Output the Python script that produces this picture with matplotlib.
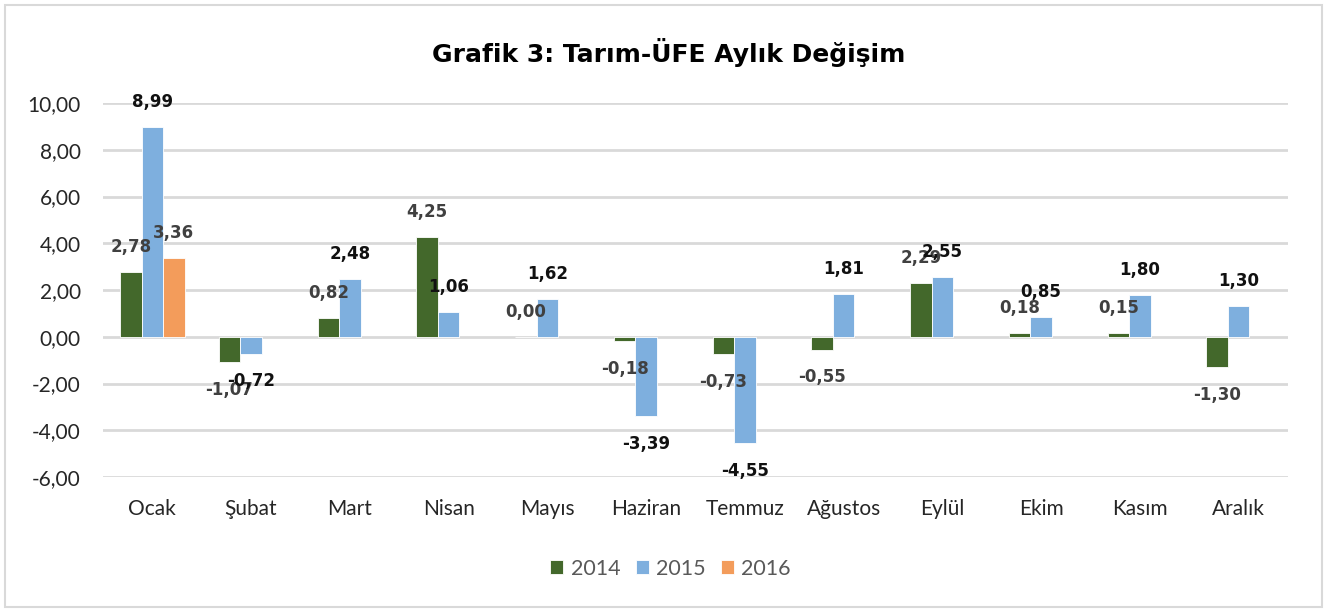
import numpy as np
import matplotlib.pyplot as plt
from matplotlib.patches import Rectangle

months = ["Ocak", "Şubat", "Mart", "Nisan", "Mayıs", "Haziran", "Temmuz",
          "Ağustos", "Eylül", "Ekim", "Kasım", "Aralık"]
v2014 = [2.78, -1.07, 0.82, 4.25, 0.00, -0.18, -0.73, -0.55, 2.29, 0.18, 0.15, -1.30]
v2015 = [8.99, -0.72, 2.48, 1.06, 1.62, -3.39, -4.55, 1.81, 2.55, 0.85, 1.80, 1.30]
v2016 = [3.36]
yticks = [-6, -4, -2, 0, 2, 4, 6, 8, 10]

def fmt(v):
    return f"{v:.2f}".replace(".", ",")

fig = plt.figure(figsize=(13.3, 6.12), dpi=100)
ax = fig.add_axes([0.0774, 0.2206, 0.891, 0.611])

x = np.arange(len(months))
w = 0.218
series = [
    (v2014, -w, "#43682B", "2014", "#404040"),
    (v2015, 0, "#7EAFDE", "2015", "#111111"),
    (v2016, w, "#F39C5B", "2016", "#404040"),
]
for vals, off, col, lab, tcol in series:
    xs = x[:len(vals)] + off
    ax.bar(xs, vals, w, color=col, edgecolor="white", linewidth=0.6, label=lab, zorder=3)
    for xi, v in zip(xs, vals):
        dy = 18 if v >= 0 else -20
        ax.annotate(fmt(v), (xi, v), xytext=(0, dy), textcoords="offset points",
                    ha="center", va="center", fontsize=12, fontweight="bold",
                    color=tcol, zorder=4)

ax.set_xlim(-0.5, len(months) - 0.5)
ax.set_ylim(-6, 10)
ax.set_yticks(yticks)
ax.set_yticklabels([fmt(t) for t in yticks], fontsize=15, color="#262626", family="Lato")
ax.set_xticks(x)
ax.set_xticklabels(months, fontsize=15, color="#262626", family="Lato")
ax.tick_params(length=0)
ax.tick_params(axis="y", pad=16)
ax.tick_params(axis="x", pad=16)
ax.grid(axis="y", color="#D9D9D9", linewidth=2, zorder=0)
for s in ax.spines.values():
    s.set_visible(False)

fig.text(0.503, 0.915, "Grafik 3: Tarım-ÜFE Aylık Değişim", ha="center", va="center",
         fontsize=18, fontweight="bold", color="black")

ax.legend(loc="center", bbox_to_anchor=(0.479, -0.245), ncol=3, frameon=False,
          labelcolor="#595959", handlelength=0.6, handleheight=0.6,
          handletextpad=0.35, columnspacing=0.7, prop={"family": "Lato", "size": 15.5})

fig.patches.append(Rectangle((0.004, 0.008), 0.99, 0.984, transform=fig.transFigure,
                             fill=False, edgecolor="#D9D9D9", linewidth=1.5))

plt.savefig("out.png", dpi=100)
